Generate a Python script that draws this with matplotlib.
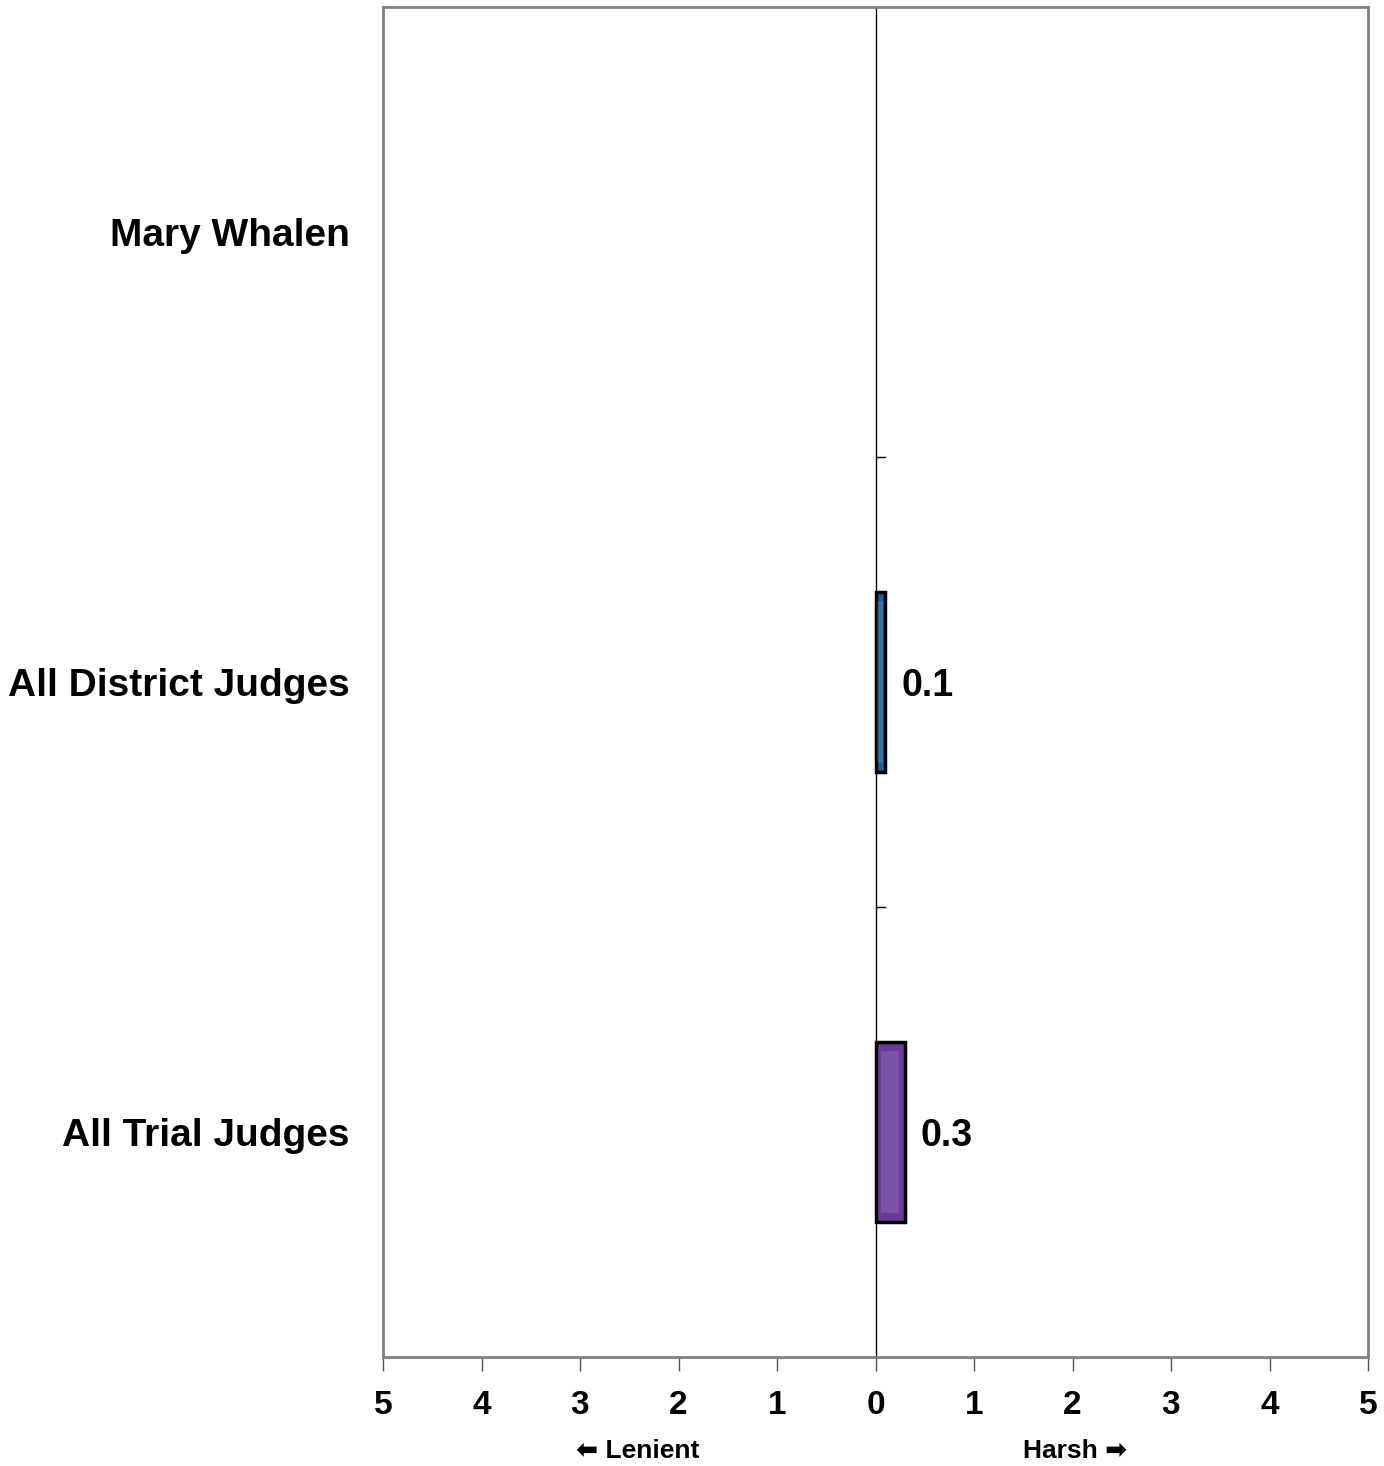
import numpy as np
import matplotlib
matplotlib.use("Agg")
import matplotlib.pyplot as plt

plt.rcParams['font.family'] = ['Liberation Sans', 'DejaVu Sans']

judges = ["Mary Whalen", "All District Judges", "All Trial Judges"]
scores = [np.nan, 0.1, 0.3]
bar_colors = ["#1f5c99", "#1f5c99", "#6b3a9c"]
ticks = [-5, -4, -3, -2, -1, 0, 1, 2, 3, 4, 5]
tick_labels = [str(abs(t)) for t in ticks]

fig = plt.figure(figsize=(13.84, 14.66), dpi=100)
ax = fig.add_axes([383 / 1384, 109 / 1466, 985 / 1384, 1350 / 1466])

pos = np.arange(len(judges))
vals = np.nan_to_num(scores)
bars = ax.barh(pos, vals, height=0.4, color=bar_colors, edgecolor="black", linewidth=2.5, zorder=3)
for b, v in zip(bars, scores):
    if np.isnan(v):
        b.set_visible(False)
        continue
    # lighter inner strip for the bevelled look
    ax.barh(b.get_y() + b.get_height() / 2, v * 0.6, left=v * 0.2, height=b.get_height() * 0.9,
            color="white", alpha=0.12, linewidth=0, zorder=4)
    ax.text(v + 0.16, b.get_y() + b.get_height() / 2 + 0.01, f"{v:.1f}", va="center", ha="left",
            fontsize=27, fontweight="bold")

ax.set_xlim(-5, 5)
ax.set_ylim(len(judges) - 0.5, -0.5)
ax.set_xticks(ticks)
ax.set_xticklabels(tick_labels, fontsize=24, fontweight="bold")
ax.tick_params(axis="x", direction="out", length=10, width=1, color="#555555", pad=14)
ax.set_yticks(pos)
ax.set_yticklabels(judges, fontsize=28, fontweight="bold")
ax.tick_params(axis="y", length=0, pad=24)

for s in ax.spines.values():
    s.set_color("#808080")
    s.set_linewidth(2)

# zero line with small ticks at category boundaries
ax.axvline(0, color="black", linewidth=1, zorder=2)
for yb in pos[:-1] + 0.5:
    ax.plot([0, 0.1], [yb, yb], color="black", linewidth=1, zorder=2)

fig.text(638 / 1384, (1466 - 1451) / 1466, "\u2b05 Lenient", ha="center", va="center",
         fontsize=19, fontweight="bold")
fig.text(1075 / 1384, (1466 - 1451) / 1466, "Harsh \u27a1", ha="center", va="center",
         fontsize=19, fontweight="bold")

fig.savefig("out.png", dpi=100)
